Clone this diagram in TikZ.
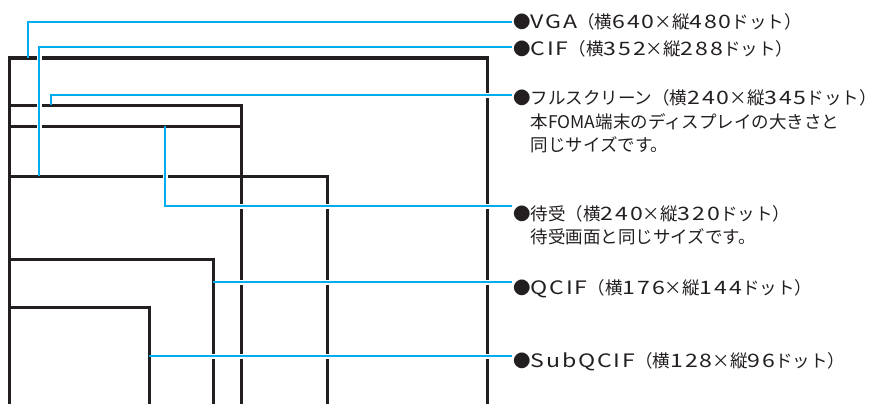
\documentclass[tikz,border=0pt]{standalone}
\usepackage{fontspec}
\setmainfont{Noto Sans CJK JP}
\newfontfamily\latfont[FakeStretch=1.25,LetterSpace=10]{Noto Sans CJK JP}
\newcommand\lt[1]{{\fontsize{18.5}{23}\latfont #1}}
\definecolor{ink}{HTML}{231F20}
\definecolor{lead}{HTML}{00AEEF}
\begin{document}
\begin{tikzpicture}[x=1pt,y=-1pt,
  frame/.style={draw=ink,line width=3pt},
  leader/.style={draw=lead,line width=2pt,
    preaction={draw=white,line width=5pt,shorten <=2pt}},
  lbl/.style={anchor=base west,inner sep=0pt,
    font=\fontsize{17.5}{23}\selectfont,text=ink}]
\useasboundingbox (0,0) rectangle (877,404);
% frames (open at the bottom)
\draw[frame] (9,404) -- (9,58) -- (487,58) -- (487,404);
\draw[frame] (9,105) -- (241,105) -- (241,404);
\draw[frame] (9,126) -- (241,126);
\draw[frame] (9,176) -- (327,176) -- (327,404);
\draw[frame] (9,259) -- (213,259) -- (213,404);
\draw[frame] (9,307) -- (149,307) -- (149,404);
% anchor points on the frames
\coordinate (vgaP) at (28,58);
\coordinate (cifP) at (39,176);
\coordinate (fullP) at (51,105);
\coordinate (waitP) at (165,126);
\coordinate (qcifP) at (213,282);
\coordinate (subP) at (149,356);
% leader ends
\coordinate (vgaE) at (512,22);
\coordinate (cifE) at (512,47);
\coordinate (fullE) at (512,95);
\coordinate (waitE) at (512,206);
\coordinate (qcifE) at (512,282);
\coordinate (subE) at (512,356);
% labels
\node[lbl] (vga) at (513,29) {●\lt{VGA}（横\lt{640}×縦\lt{480}ドット）};
\node[lbl] (cif) at (513,56) {●\lt{CIF}（横\lt{352}×縦\lt{288}ドット）};
\node[lbl] (full) at (513,104) {●フルスクリーン（横\lt{240}×縦\lt{345}ドット）};
\node[lbl] (full2) at (513,128) {\hphantom{●}本FOMA端末のディスプレイの大きさと};
\node[lbl] (full3) at (513,151) {\hphantom{●}同じサイズです。};
\node[lbl] (wait) at (513,220) {●待受（横\lt{240}×縦\lt{320}ドット）};
\node[lbl] (wait2) at (513,243) {\hphantom{●}待受画面と同じサイズです。};
\node[lbl] (qcif) at (513,294) {●\lt{QCIF}（横\lt{176}×縦\lt{144}ドット）};
\node[lbl] (sub) at (513,367) {●\lt{SubQCIF}（横\lt{128}×縦\lt{96}ドット）};
% leaders
\draw[leader] (vgaP) |- (vgaE);
\draw[leader] (cifP) |- (cifE);
\draw[leader] (fullP) |- (fullE);
\draw[leader] (waitP) |- (waitE);
\draw[leader] (qcifP) -- (qcifE);
\draw[leader] (subP) -- (subE);
\end{tikzpicture}
\end{document}
